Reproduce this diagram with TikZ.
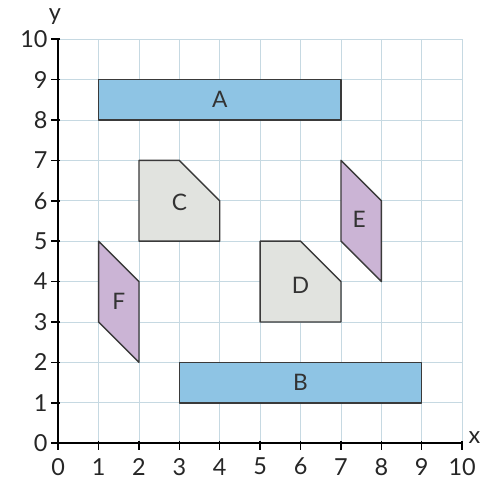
\documentclass[tikz,border=0pt]{standalone}
\usepackage{fontspec}
\setmainfont{Lato}
\usetikzlibrary{positioning}
\definecolor{gridblue}{HTML}{C6D9E2}
\definecolor{shapeblue}{HTML}{8EC4E4}
\definecolor{shapegrey}{HTML}{E1E3DF}
\definecolor{shapepurple}{HTML}{CBB4D5}
\definecolor{edgegrey}{HTML}{3A3A3A}
\tikzset{
  gridline/.style={draw=gridblue, line width=0.6pt},
  axisline/.style={draw=black, line width=1.4pt},
  tickmark/.style={draw=black, line width=1pt},
  ticklabel/.style={font=\fontsize{16.5}{19}\selectfont, text=black!85, inner sep=1pt},
  shapelabel/.style={font=\fontsize{16}{19}\selectfont, text=black!80, inner sep=1pt},
  blueshape/.style={fill=shapeblue, draw=edgegrey, line width=1pt, line join=round},
  greyshape/.style={fill=shapegrey, draw=edgegrey, line width=1pt, line join=round},
  purpleshape/.style={fill=shapepurple, draw=edgegrey, line width=1pt, line join=round}
}

\begin{document}
\begin{tikzpicture}
\useasboundingbox (-1.44,-0.97) rectangle (10.54,10.97);
% grid
\foreach \i in {1,...,10} {
  \draw[gridline] (\i,0) -- (\i,10);
  \draw[gridline] (0,\i) -- (10,\i);
}
% shapes
\draw[blueshape] (1,8) rectangle (7,9);
\draw[blueshape] (3,1) rectangle (9,2);
\draw[greyshape] (2,5) -- (2,7) -- (3,7) -- (4,6) -- (4,5) -- cycle;
\draw[greyshape] (5,3) -- (5,5) -- (6,5) -- (7,4) -- (7,3) -- cycle;
\draw[purpleshape] (7,7) -- (8,6) -- (8,4) -- (7,5) -- cycle;
\draw[purpleshape] (1,5) -- (2,4) -- (2,2) -- (1,3) -- cycle;
\node[shapelabel] (labA) at (4,8.5) {A};
\node[shapelabel] (labB) at (6,1.5) {B};
\node[shapelabel] (labC) at (3,5.95) {C};
\node[shapelabel] (labD) at (6,3.9) {D};
\node[shapelabel] (labE) at (7.45,5.55) {E};
\node[shapelabel] (labF) at (1.5,3.5) {F};
% axes
\draw[axisline] (0,10) -- (0,0) -- (10,0);
\foreach \i in {0,...,10} {
  \draw[tickmark] (\i,0.05) -- (\i,-0.18);
  \draw[tickmark] (0.05,\i) -- (-0.18,\i);
  \node[ticklabel] (xl\i) at (\i,-0.58) {\i};
  \node[ticklabel, anchor=east] (yl\i) at (-0.22,\i) {\i};
}
\node[ticklabel] (ylab) at (-0.08,10.55) {y};
\node[ticklabel, anchor=west] (xlab) at (10.12,0.15) {x};
\end{tikzpicture}
\end{document}
